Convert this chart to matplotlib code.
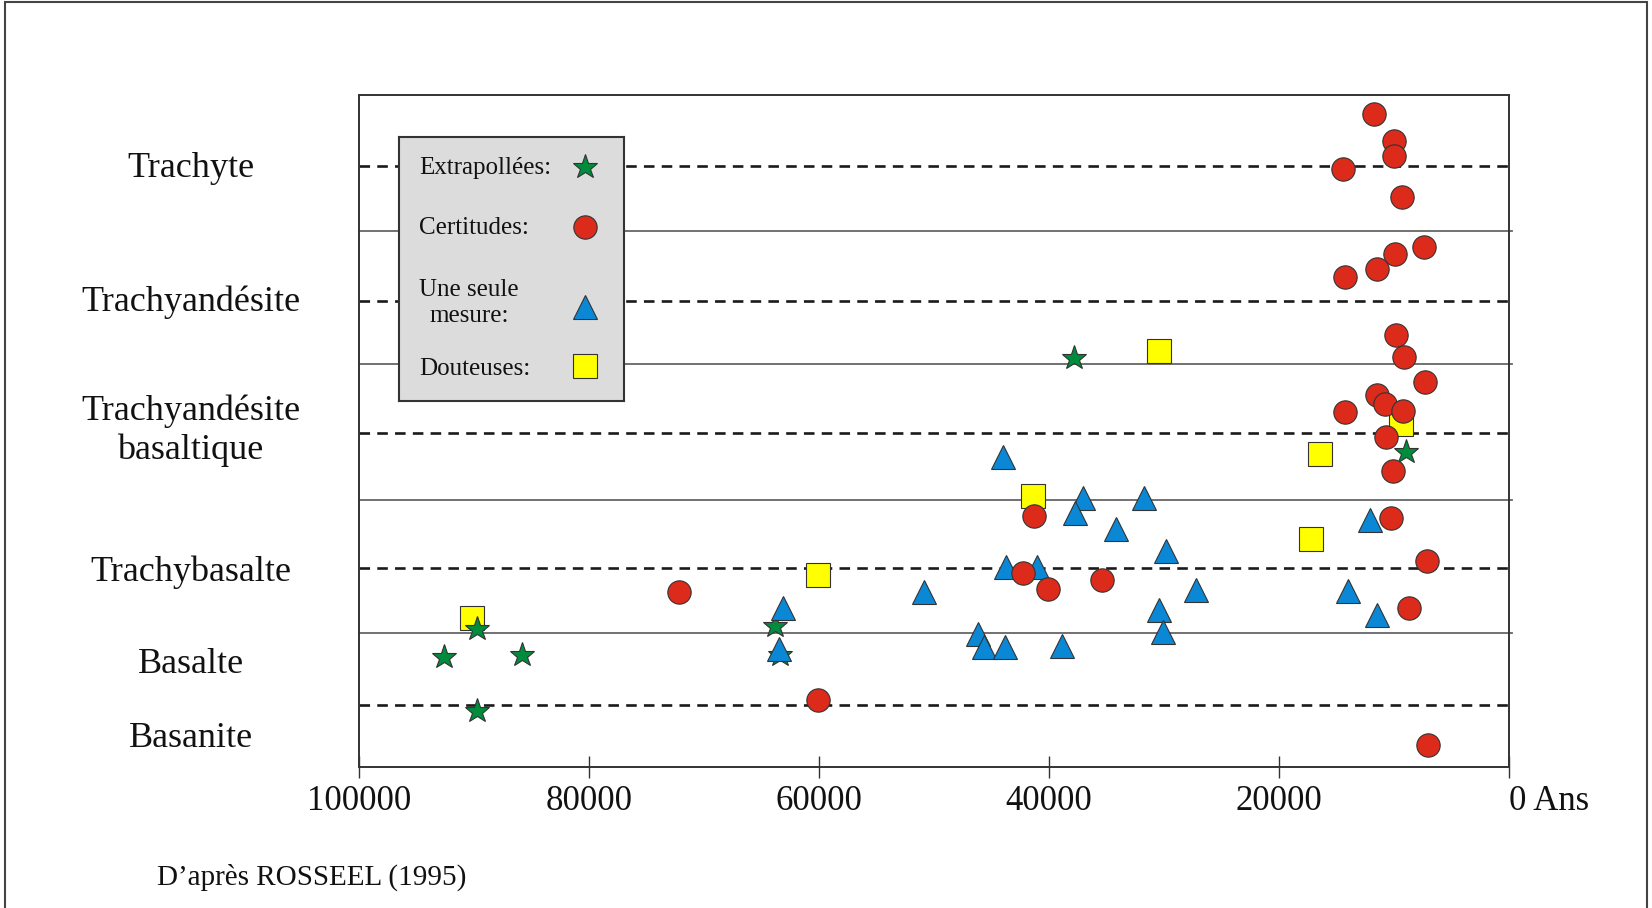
import matplotlib
matplotlib.use("Agg")
import matplotlib.pyplot as plt
from matplotlib.patches import Rectangle
from matplotlib.transforms import blended_transform_factory

plt.rcParams["font.family"] = ["Liberation Serif", "DejaVu Serif"]
plt.rcParams["lines.scale_dashes"] = False

# ---- data: age (years before present) and position within the rock-type bands ----
rock_types = ["Trachyte", "Trachyandésite", "Trachyandésite\nbasaltique",
              "Trachybasalte", "Basalte", "Basanite"]

certitudes_age = [11700, 10000, 10000, 14400, 9300, 7400, 9900, 11500, 14300,
                  9850, 9150, 7300, 11450, 10800, 9250, 14250, 10700, 10050,
                  10300, 7150, 8700, 7050, 41300, 42300, 40050, 35350, 72200, 60100]
certitudes_pos = [9.72, 9.32, 9.09, 8.90, 8.48, 7.74, 7.63, 7.41, 7.29,
                  6.43, 6.10, 5.73, 5.54, 5.40, 5.30, 5.28, 4.91, 4.41,
                  3.70, 3.07, 2.36, 0.32, 3.74, 2.88, 2.65, 2.78, 2.60, 1.00]

mesure_age = [12100, 14000, 11500, 44000, 37050, 31700, 37700, 34200, 29800,
              43750, 41050, 50900, 27200, 30450, 30100, 46200, 45650, 43800,
              38850, 63150, 63450]
mesure_pos = [3.67, 2.62, 2.26, 4.61, 4.01, 4.01, 3.78, 3.54, 3.21,
              2.98, 2.98, 2.60, 2.63, 2.34, 2.01, 1.98, 1.78, 1.78,
              1.80, 2.36, 1.76]

douteuses_age = [30450, 9350, 16400, 17250, 41400, 60050, 90150]
douteuses_pos = [6.19, 5.11, 4.66, 3.39, 4.04, 2.86, 2.21]

extrapolees_age = [37800, 9000, 89750, 63800, 92650, 85850, 63400, 89750]
extrapolees_pos = [6.09, 4.69, 2.06, 2.10, 1.64, 1.67, 1.67, 0.84]

age_ticks = [100000, 80000, 60000, 40000, 20000, 0]
age_tick_labels = ["100000", "80000", "60000", "40000", "20000", "0 Ans"]

legend_labels = ["Extrapollées:", "Certitudes:", "Une seule\nmesure:", "Douteuses:"]

# ---- layout / style ----
W, H = 1652, 908
fig = plt.figure(figsize=(W / 100, H / 100), dpi=100)
fig.patch.set_facecolor("white")

ax = fig.add_axes([359 / W, 1 - 767 / H, 1150 / W, 672 / H])
ax.set_xlim(100000, 0)
ax.set_ylim(0, 10)

RED, BLUE, GREEN, YELLOW = "#dc2a1b", "#0a88d6", "#008c3c", "#ffff00"
EDGE = "#333333"

center_lines = [8.95, 6.94, 4.97, 2.96, 0.93]
band_edges = [7.98, 5.99, 3.98, 1.99]
for y in band_edges:
    ax.axhline(y, xmin=0, xmax=1.003, color="#666666", lw=1.3, clip_on=False, zorder=1)
for y in center_lines:
    ax.axhline(y, color="#1a1a1a", lw=1.9, ls=(0, (7.6, 5.2)), zorder=1)

mk = dict(ls="none", markeredgecolor=EDGE, markeredgewidth=0.8)
ax.plot(douteuses_age, douteuses_pos, marker="s", ms=16.8, markerfacecolor=YELLOW, zorder=3, **mk)
ax.plot(extrapolees_age, extrapolees_pos, marker="*", ms=18.5, markerfacecolor=GREEN, zorder=4, **mk)
ax.plot(mesure_age, mesure_pos, marker="^", ms=16.8, markerfacecolor=BLUE, zorder=5, **mk)
ax.plot(certitudes_age, certitudes_pos, marker="o", ms=16.8, markerfacecolor=RED, zorder=6, **mk)

for s in ax.spines.values():
    s.set_color("#333333")
    s.set_linewidth(1.4)
ax.set_yticks([])
ax.set_xticks(age_ticks, age_tick_labels)
ax.tick_params(axis="x", direction="inout", length=15.5, width=1.0, color="#333333",
               pad=5.5, labelsize=25, labelcolor="#111111")
ax.get_xticklabels()[-1].set_horizontalalignment("left")

# rock-type names beside the bands
label_pos = [8.90, 6.92, 5.00, 2.90, 1.52, 0.42]
trans = blended_transform_factory(ax.transAxes, ax.transData)
for name, y in zip(rock_types, label_pos):
    ax.text(-0.1465, y, name, transform=trans, ha="center", va="center",
            fontsize=26, color="#111111", linespacing=1.22, multialignment="center")

# legend panel
lax = fig.add_axes([399 / W, 1 - 401 / H, 225 / W, 264 / H])
lax.set_facecolor("#dcdcdc")
lax.set_xlim(0, 225)
lax.set_ylim(264, 0)
lax.set_xticks([])
lax.set_yticks([])
for s in lax.spines.values():
    s.set_color("#333333")
    s.set_linewidth(1.5)
row_y = [31, 91, 166, 232]
swatch_y = [30, 90, 170, 229]
styles = [("*", GREEN, 18.5), ("o", RED, 16.8), ("^", BLUE, 16.8), ("s", YELLOW, 16.8)]
for lab, ty, sy, (m, c, s) in zip(legend_labels, row_y, swatch_y, styles):
    lax.text(20, ty, lab, ha="left", va="center", fontsize=18, color="#111111",
             multialignment="center", linespacing=1.25)
    lax.plot([185.5], [sy], marker=m, ms=s, markerfacecolor=c, **mk)

fig.text(157 / W, 1 - 877 / H, "D\u2019après ROSSEEL (1995)", ha="left", va="center",
         fontsize=21, color="#111111")

fig.add_artist(Rectangle((5 / W, -0.01), 1642 / W, 906 / H + 0.01, transform=fig.transFigure,
                         fill=False, edgecolor="#444444", lw=1.5))

fig.savefig("out.png", dpi=100)
